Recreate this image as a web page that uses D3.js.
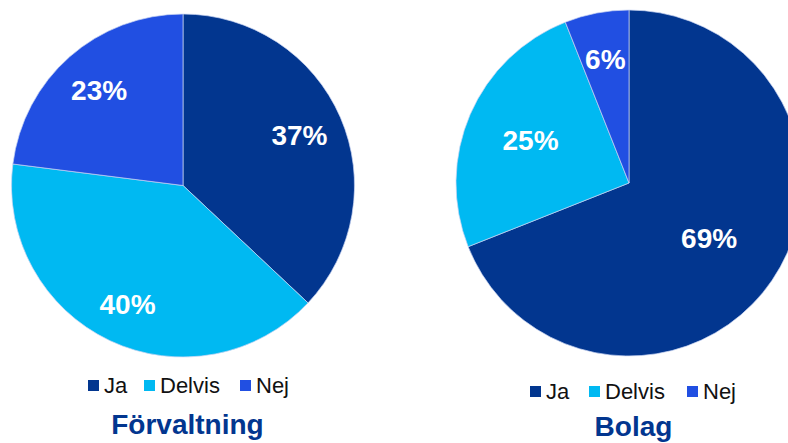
<!DOCTYPE html>
<html>
<head>
<meta charset="utf-8">
<script src="https://cdn.jsdelivr.net/npm/d3@7"></script>
<style>
  body { margin: 0; background: #fff; }
  svg { display: block; font-family: "Liberation Sans", Arial, sans-serif; }
</style>
</head>
<body>
<div id="chart"></div>
<script>
// Data
const categories = ["Ja", "Delvis", "Nej"];
const forvaltningValues = [37, 40, 23];
const bolagValues = [69, 25, 6];
const chartTitles = ["Förvaltning", "Bolag"];

const width = 788;
const height = 443;
const colors = ["#02368F", "#00B9F2", "#214FE2"];

const svg = d3.select("#chart")
    .append("svg")
    .attr("width", width)
    .attr("height", height);

const color = d3.scaleOrdinal().domain(categories).range(colors);

// layout per pie
const charts = [
    { values: forvaltningValues, title: chartTitles[0], cx: 183, cy: 185.5, r: 171.5,
      labelR: [0.74, 0.76, 0.74], legendX: 88, legendY: 386, legendGap: [0, 56, 152], titleX: 187.5, titleY: 434 },
    { values: bolagValues, title: chartTitles[1], cx: 629, cy: 183, r: 173,
      labelR: [0.56, 0.62, 0.73], legendX: 530, legendY: 392, legendGap: [0, 59, 157], titleX: 633.5, titleY: 436 }
];

const pie = d3.pie().sort(null).value(d => d.value);

charts.forEach(c => {
    const data = categories.map((k, i) => ({ key: k, value: c.values[i] }));
    const arcs = pie(data);
    const arc = d3.arc().innerRadius(0).outerRadius(c.r);

    const g = svg.append("g").attr("transform", `translate(${c.cx},${c.cy})`);

    g.selectAll("path")
        .data(arcs)
        .join("path")
        .attr("d", arc)
        .attr("fill", d => color(d.data.key))
        .attr("stroke", "#c8d4f2")
        .attr("stroke-width", 0.7);

    // percentage labels
    g.selectAll("text")
        .data(arcs)
        .join("text")
        .attr("transform", (d, i) => {
            const lr = c.r * c.labelR[i];
            const a = d3.arc().innerRadius(lr).outerRadius(lr);
            return `translate(${a.centroid(d)})`;
        })
        .attr("text-anchor", "middle")
        .attr("dy", "0.36em")
        .attr("fill", "#fff")
        .attr("font-weight", "bold")
        .attr("font-size", 28)
        .text(d => d.data.value + "%");

    // legend
    const leg = svg.append("g");
    categories.forEach((k, i) => {
        const x = c.legendX + c.legendGap[i];
        leg.append("rect")
            .attr("x", x)
            .attr("y", c.legendY - 6)
            .attr("width", 11)
            .attr("height", 11)
            .attr("fill", color(k));
        leg.append("text")
            .attr("x", x + 16)
            .attr("y", c.legendY + 7)
            .attr("font-size", 22)
            .attr("fill", "#111")
            .text(k);
    });

    // title
    svg.append("text")
        .attr("x", c.titleX)
        .attr("y", c.titleY)
        .attr("text-anchor", "middle")
        .attr("font-weight", "bold")
        .attr("font-size", 28)
        .attr("fill", "#02368F")
        .text(c.title);
});
</script>
</body>
</html>
